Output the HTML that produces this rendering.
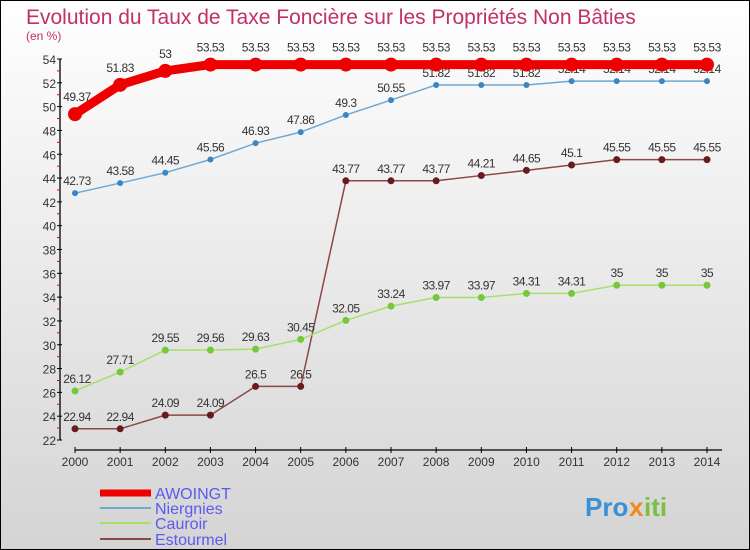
<!DOCTYPE html>
<html><head><meta charset="utf-8"><style>
body{margin:0}
svg{display:block;font-family:"Liberation Sans",sans-serif}
</style></head><body>
<svg width="750" height="550" viewBox="0 0 750 550">
<defs><linearGradient id="bg" x1="0" y1="0" x2="0" y2="1"><stop offset="0" stop-color="#ffffff"/><stop offset="1" stop-color="#d4d4d4"/></linearGradient></defs>
<rect x="0.5" y="0.5" width="749" height="549" fill="url(#bg)" stroke="#000"/>
<text x="26" y="24" font-size="21" fill="#c0306a">Evolution du Taux de Taxe Foncière sur les Propriétés Non Bâties</text>
<text x="26" y="40" font-size="12" fill="#c0306a">(en %)</text>
<g id="axes"></g>
<g id="series"></g>
<g id="legend"></g>
<g font-size="26" font-weight="bold">
<text x="585" y="516" fill="#3a8fd8">Pro</text><text x="629" y="516" fill="#f08a1c">x</text><text x="644" y="516" fill="#7ac143">iti</text>
</g>
</svg>
<script>
const years=[2000,2001,2002,2003,2004,2005,2006,2007,2008,2009,2010,2011,2012,2013,2014];
const yTicks=[22,24,26,28,30,32,34,36,38,40,42,44,46,48,50,52,54];
const seriesNames=["AWOINGT","Niergnies","Cauroir","Estourmel"];
const awoingt=[49.37,51.83,53,53.53,53.53,53.53,53.53,53.53,53.53,53.53,53.53,53.53,53.53,53.53,53.53];
const niergnies=[42.73,43.58,44.45,45.56,46.93,47.86,49.3,50.55,51.82,51.82,51.82,52.14,52.14,52.14,52.14];
const cauroir=[26.12,27.71,29.55,29.56,29.63,30.45,32.05,33.24,33.97,33.97,34.31,34.31,35,35,35];
const estourmel=[22.94,22.94,24.09,24.09,26.5,26.5,43.77,43.77,43.77,44.21,44.65,45.1,45.55,45.55,45.55];
const NS="http://www.w3.org/2000/svg";
const X=i=>75+i*(707-75)/(years.length-1);
const Y=v=>440-(v-22)*(381/32);
function mk(tag,attrs,parent,txt){const e=document.createElementNS(NS,tag);for(const k in attrs)e.setAttribute(k,attrs[k]);if(txt!==undefined)e.textContent=txt;parent.appendChild(e);return e;}
const axes=document.getElementById('axes');
let yl=mk('line',{x1:60,y1:Y(54),x2:60,y2:Y(22),stroke:'#000','stroke-width':1.3},axes);


yTicks.forEach(t=>{
 mk('line',{x1:57,x2:62,y1:Y(t),y2:Y(t),stroke:'#000'},axes);
 if(t<54)mk('line',{x1:57,x2:60,y1:Y(t+1),y2:Y(t+1),stroke:'#e00'},axes);
 let tx=mk('text',{x:56,y:Y(t)+5,'text-anchor':'end','font-size':12,fill:'#333'},axes,t);
 
 
});
let xl=mk('line',{x1:75,y1:450,x2:722,y2:450,stroke:'#000','stroke-width':1.3},axes);


years.forEach((yr,i)=>{
 mk('line',{x1:X(i),x2:X(i),y1:447,y2:453,stroke:'#000'},axes);
 let tx=mk('text',{x:X(i),y:466,'text-anchor':'middle','font-size':12,fill:'#333'},axes,yr);
 
 
});
const sg=document.getElementById('series');
const defs=[[awoingt,'#ee0000',9,7,'#ee0000'],[niergnies,'#6fa8d0',1.5,3,'#3a86c2'],[cauroir,'#a6e06a',1.5,3.5,'#76c83a'],[estourmel,'#8a4848',1.5,3.5,'#6a1a1a']];
function fmt(v){return String(v);}
[3,2,1,0].forEach(si=>{
 const [vals,col,w,r,dot]=defs[si];
 const g=mk('g',{},sg);
 
 
 mk('polyline',{points:vals.map((v,i)=>X(i)+','+Y(v)).join(' '),fill:'none',stroke:col,'stroke-width':w,'stroke-linejoin':'round'},g);
 vals.forEach((v,i)=>{
  const c=mk('circle',{cx:X(i),cy:Y(v),r:r,fill:dot},g);
  
  
  const t=mk('text',{x:X(i)+(i==0?2:0),y:Y(v)-(si==0?13:8),'text-anchor':'middle','font-size':12,fill:'#333','letter-spacing':'-0.5'},g,fmt(v));
  
  
 });
});
const lg=document.getElementById('legend');
const lys=[493,508,523,539];
seriesNames.forEach((n,i)=>{
 const g=mk('g',{},lg);
 
 
 mk('line',{x1:100,x2:151,y1:lys[i],y2:lys[i],stroke:i==0?'#ee0000':defs[i][1],'stroke-width':i==0?7:2},g);
 mk('text',{x:155,y:lys[i]+6,'font-size':16,fill:'#5a5af0'},g,n);
});
</script>
</body></html>
